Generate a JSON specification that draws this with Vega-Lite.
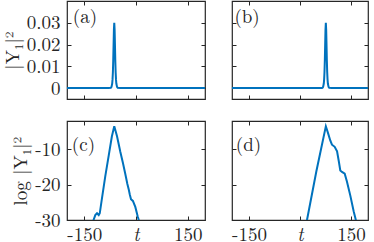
{
  "$schema": "https://vega.github.io/schema/vega-lite/v6.json",
  "padding": {"left": 2, "top": -1, "right": 0, "bottom": 0},
  "background": "white",
  "datasets": {
    "a": [{"t":-200,"v":0},{"t":-80,"v":0},{"t":-73,"v":0.00015},{"t":-71,"v":0.00057},{"t":-69,"v":0.00212},{"t":-68,"v":0.00399},{"t":-67,"v":0.00729},{"t":-66,"v":0.0126},{"t":-65,"v":0.0198},{"t":-64,"v":0.0269},{"t":-63,"v":0.03},{"t":-62,"v":0.0269},{"t":-61,"v":0.0198},{"t":-60,"v":0.0126},{"t":-59,"v":0.00729},{"t":-58,"v":0.00399},{"t":-57,"v":0.00212},{"t":-55,"v":0.00057},{"t":-53,"v":0.00015},{"t":-45,"v":0},{"t":200,"v":0}],
    "b": [{"t":-200,"v":0},{"t":63,"v":0},{"t":66,"v":0.00015},{"t":68,"v":0.00057},{"t":70,"v":0.00212},{"t":71,"v":0.00399},{"t":72,"v":0.00729},{"t":73,"v":0.0126},{"t":74,"v":0.0198},{"t":75,"v":0.0269},{"t":76,"v":0.03},{"t":77,"v":0.0269},{"t":78,"v":0.0198},{"t":79,"v":0.0126},{"t":80,"v":0.00729},{"t":81,"v":0.00399},{"t":82,"v":0.00212},{"t":84,"v":0.00057},{"t":86,"v":0.00015},{"t":94,"v":0},{"t":200,"v":0}],
    "c": [{"t":-130,"v":-32.5},{"t":-123,"v":-30},{"t":-118,"v":-28.6},{"t":-113,"v":-28.1},{"t":-108,"v":-28.6},{"t":-105,"v":-28.1},{"t":-99,"v":-24.1},{"t":-89,"v":-17.6},{"t":-79,"v":-11.7},{"t":-70,"v":-6.4},{"t":-63,"v":-3.5},{"t":-55,"v":-6.3},{"t":-45.5,"v":-10.7},{"t":-38,"v":-13.8},{"t":-31,"v":-17},{"t":-25,"v":-19.8},{"t":-21,"v":-21.4},{"t":-18,"v":-22.8},{"t":-14.5,"v":-24.1},{"t":-9,"v":-24.6},{"t":-2,"v":-26.3},{"t":5,"v":-29},{"t":8,"v":-30},{"t":11,"v":-31}],
    "d": [{"t":15,"v":-33},{"t":20.6,"v":-30},{"t":48,"v":-16.3},{"t":76,"v":-3.5},{"t":82,"v":-5.3},{"t":89,"v":-7.5},{"t":94,"v":-8.7},{"t":102,"v":-9.3},{"t":109,"v":-10.6},{"t":114,"v":-13.3},{"t":118.5,"v":-16},{"t":123.5,"v":-16.4},{"t":131.5,"v":-16.9},{"t":138,"v":-19.1},{"t":148,"v":-23.1},{"t":158,"v":-27.6},{"t":165,"v":-30.3},{"t":168,"v":-32}]
  },
  "columns": 2,
  "spacing": {"row": 18, "column": 23},
  "concat": [
    {
      "width": 138, "height": 98,
      "layer": [
        {"data": {"name": "a"}, "mark": {"type": "line", "clip": true},
         "encoding": {
           "x": {"field": "t", "type": "quantitative", "scale": {"domain": [-200, 200]}, "axis": {"values": [-150, 0, 150], "labels": false, "title": null}},
           "y": {"field": "v", "type": "quantitative", "scale": {"domain": [-0.0017, 0.04]}, "axis": {"values": [0, 0.01, 0.02, 0.03], "format": "~g", "title": "|Y₁|²", "labelPadding": 11}}
         }},
        {"data": {"values": [{"lab": "(a)"}]}, "mark": {"type": "text", "align": "left", "baseline": "middle", "font": "Latin Modern Roman", "fontSize": 19},
         "encoding": {
           "x": {"datum": -183, "type": "quantitative", "axis": {"orient": "top", "values": [-150, 0, 150], "labels": false, "title": null}},
           "y": {"datum": 0.0326, "type": "quantitative", "axis": {"orient": "right", "values": [0, 0.01, 0.02, 0.03], "labels": false, "title": null}},
           "text": {"field": "lab"}
         }}
      ],
      "resolve": {"axis": {"x": "independent", "y": "independent"}}
    },
    {
      "width": 136, "height": 98,
      "layer": [
        {"data": {"name": "b"}, "mark": {"type": "line", "clip": true},
         "encoding": {
           "x": {"field": "t", "type": "quantitative", "scale": {"domain": [-200, 200]}, "axis": {"values": [-150, 0, 150], "labels": false, "title": null}},
           "y": {"field": "v", "type": "quantitative", "scale": {"domain": [-0.0017, 0.04]}, "axis": {"values": [0, 0.01, 0.02, 0.03], "labels": false, "title": null}}
         }},
        {"data": {"values": [{"lab": "(b)"}]}, "mark": {"type": "text", "align": "left", "baseline": "middle", "font": "Latin Modern Roman", "fontSize": 19},
         "encoding": {
           "x": {"datum": -193, "type": "quantitative", "axis": {"orient": "top", "values": [-150, 0, 150], "labels": false, "title": null}},
           "y": {"datum": 0.0326, "type": "quantitative", "axis": {"orient": "right", "values": [0, 0.01, 0.02, 0.03], "labels": false, "title": null}},
           "text": {"field": "lab"}
         }}
      ],
      "resolve": {"axis": {"x": "independent", "y": "independent"}}
    },
    {
      "width": 138, "height": 99,
      "layer": [
        {"data": {"name": "c"}, "mark": {"type": "line", "clip": true},
         "encoding": {
           "x": {"field": "t", "type": "quantitative", "scale": {"domain": [-200, 200]}, "axis": {"values": [-150, 0, 150], "title": null, "labelPadding": 9, "labelExpr": "datum.value == 0 ? 't' : replace(datum.label, '−', '-')", "labelFontStyle": {"condition": {"test": "datum.value == 0", "value": "italic"}, "value": "normal"}}},
           "y": {"field": "v", "type": "quantitative", "scale": {"domain": [-30, -3.5]}, "axis": {"values": [-30, -20, -10], "title": "log |Y₁|²", "labelPadding": 11, "labelExpr": "replace(datum.label, '−', '-')"}}
         }},
        {"data": {"values": [{"lab": "(c)"}]}, "mark": {"type": "text", "align": "left", "baseline": "middle", "font": "Latin Modern Roman", "fontSize": 19},
         "encoding": {
           "x": {"datum": -186, "type": "quantitative", "axis": {"orient": "top", "values": [-150, 0, 150], "labels": false, "title": null}},
           "y": {"datum": -8.7, "type": "quantitative", "axis": {"orient": "right", "values": [-30, -20, -10], "labels": false, "title": null}},
           "text": {"field": "lab"}
         }}
      ],
      "resolve": {"axis": {"x": "independent", "y": "independent"}}
    },
    {
      "width": 136, "height": 99,
      "layer": [
        {"data": {"name": "d"}, "mark": {"type": "line", "clip": true},
         "encoding": {
           "x": {"field": "t", "type": "quantitative", "scale": {"domain": [-200, 200]}, "axis": {"values": [-150, 0, 150], "title": null, "labelPadding": 9, "labelExpr": "datum.value == 0 ? 't' : replace(datum.label, '−', '-')", "labelFontStyle": {"condition": {"test": "datum.value == 0", "value": "italic"}, "value": "normal"}}},
           "y": {"field": "v", "type": "quantitative", "scale": {"domain": [-30, -3.5]}, "axis": {"values": [-30, -20, -10], "labels": false, "title": null}}
         }},
        {"data": {"values": [{"lab": "(d)"}]}, "mark": {"type": "text", "align": "left", "baseline": "middle", "font": "Latin Modern Roman", "fontSize": 19},
         "encoding": {
           "x": {"datum": -189, "type": "quantitative", "axis": {"orient": "top", "values": [-150, 0, 150], "labels": false, "title": null}},
           "y": {"datum": -8.7, "type": "quantitative", "axis": {"orient": "right", "values": [-30, -20, -10], "labels": false, "title": null}},
           "text": {"field": "lab"}
         }}
      ],
      "resolve": {"axis": {"x": "independent", "y": "independent"}}
    }
  ],
  "config": {
    "font": "Latin Modern Roman",
    "view": {"stroke": "#262626", "strokeWidth": 1.2},
    "axis": {"domain": false, "grid": false, "tickColor": "#262626", "tickSize": -4, "tickWidth": 1, "labelFont": "Latin Modern Roman", "labelFontSize": 19, "labelColor": "#262626", "labelPadding": 6, "titleFont": "Latin Modern Roman", "titleFontSize": 19, "titleFontWeight": "normal", "titleColor": "#262626", "titlePadding": 4},
    "line": {"color": "#0072BD", "strokeWidth": 2},
    "text": {"color": "#262626"}
  }
}
